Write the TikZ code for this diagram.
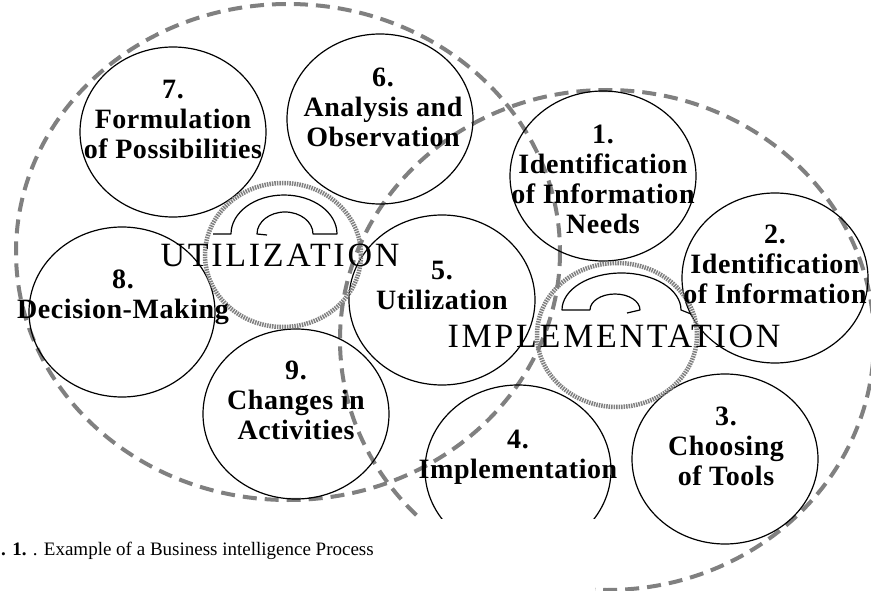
\documentclass[tikz,border=0pt]{standalone}
\usepackage{fontspec}
\setmainfont{Liberation Serif}
\newfontfamily\lblfont[LetterSpace=2]{Liberation Serif Bold}
\newfontfamily\bigfont[LetterSpace=8]{Liberation Serif}
\begin{document}
\begin{tikzpicture}[x=1pt,y=-1pt,
  ring/.style={ellipse,draw=black,line width=1.2pt,inner sep=0,minimum width=186pt,minimum height=170pt},
  stage/.style={align=center,inner sep=0,font=\lblfont\fontsize{28}{30}\selectfont},
  bigdash/.style={draw=gray,line width=4pt,dash pattern=on 14pt off 8pt},
  dotring/.style={ellipse,draw=gray,line width=4.5pt,dash pattern=on 1.5pt off 1pt,inner sep=0},
  blockarrow/.style={draw=black,line width=1.2pt,line join=round},
  bigword/.style={inner sep=0,font=\bigfont\fontsize{34}{40}\selectfont}]
\usetikzlibrary{shapes.geometric}
\useasboundingbox (0,0) rectangle (871,591);
\fill[white] (0,0) rectangle (871,591);
% large dashed groups
\draw[bigdash] (288,252) ellipse [x radius=272, y radius=248];
\draw[bigdash] (607,340) ellipse [x radius=267, y radius=250];
% stage circles
\node[ring] (c7) at (173,132) {};
\node[ring] (c6) at (380,119) {};
\node[ring] (c1) at (603,176) {};
\node[ring] (c2) at (775,278) {};
\node[ring] (c3) at (725,459) {};
\node[ring] (c4) at (518,470) {};
\node[ring] (c5) at (442,300) {};
\node[ring] (c8) at (122,312) {};
\node[ring] (c9) at (296,414) {};
% dotted cycle circles
\node[dotring,minimum width=156pt,minimum height=144pt] (du) at (283,255) {};
\node[dotring,minimum width=160pt,minimum height=144pt] (di) at (617,335) {};
% curved block arrows
\coordinate (ua) at (231,234);
\coordinate (ub) at (313,234);
\draw[blockarrow] (213,234) -- (ua) arc[start angle=180,end angle=360,x radius=53,y radius=39]
  -- (ub) arc[start angle=0,end angle=-180,x radius=28,y radius=22] -- (267,235);
\coordinate (ia) at (562,310);
\coordinate (ib) at (590,310);
\draw[blockarrow] (ib) -- (ia) arc[start angle=180,end angle=360,x radius=59.5,y radius=37] -- (691,314);
\draw[blockarrow] (ib) arc[start angle=180,end angle=360,x radius=25,y radius=16] -- (627,313);
% labels
\node[stage] (t7) at (173,119) {7.\\Formulation\\of Possibilities};
\node[stage] (t6) at (383,107) {6.\\Analysis and\\Observation};
\node[stage] (t1) at (603,179) {1.\\Identification\\of Information\\Needs};
\node[stage] (t2) at (775,264) {2.\\Identification\\of Information};
\node[stage] (t3) at (726,446) {3.\\Choosing\\of Tools};
\node[stage] (t4) at (518,457) {4.\\Implementation};
\node[stage] (t5) at (442,285) {5.\\Utilization};
\node[stage] (t8) at (123,297) {8.\\Decision-Making};
\node[stage] (t9) at (296,400) {9.\\Changes in\\Activities};
\node[bigword] (wu) at (280,255) {UTILIZATION};
\node[bigword] (wi) at (614,336) {IMPLEMENTATION};
% caption area
\fill[white] (0,519) rectangle (595,591);
\node[anchor=base west,inner sep=0,font=\fontsize{19}{23}\selectfont] (cap) at (1,555) {\textbf{.\,\,1.}\,\,.\,\,Example of a Business intelligence Process};
\end{tikzpicture}
\end{document}
